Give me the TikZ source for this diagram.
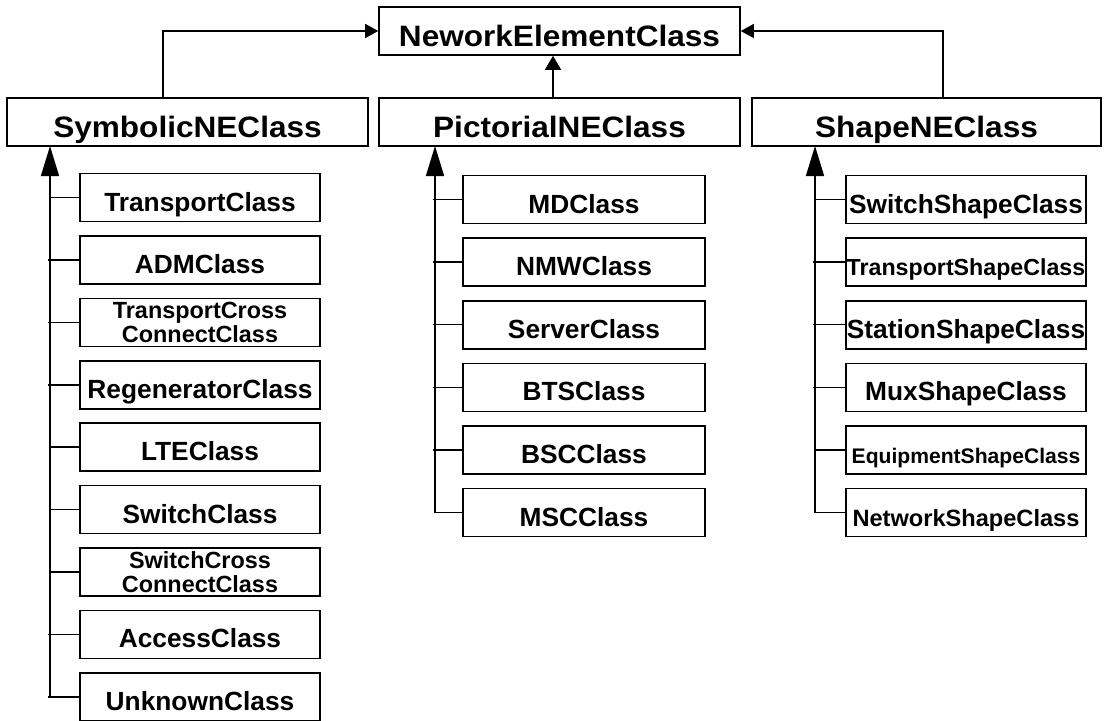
\documentclass[tikz,border=0pt]{standalone}
\usepackage{fontspec}
\setmainfont{Liberation Sans}
\newfontfamily\headfont[FakeStretch=1.07]{Liberation Sans}
\usetikzlibrary{arrows.meta,positioning}

\tikzset{
  classbox/.style={draw, line width=1.6pt, minimum height=48pt, inner sep=0pt},
  headbox/.style={classbox, minimum width=361pt, text height=30pt, text depth=0pt,
    font=\headfont\bfseries\fontsize{29.5}{30}\selectfont},
  subbox/.style={classbox, minimum width=240pt, text height=27pt, text depth=0pt,
    font=\bfseries\fontsize{26.3}{27}\selectfont},
  twobox/.style={classbox, minimum width=240pt, align=center,
    font=\bfseries\fontsize{23.4}{23.4}\selectfont},
  link/.style={line width=1.5pt},
  inherit/.style={link, -{Triangle[length=13pt,width=14pt]}},
  trunk/.style={link, -{Triangle[length=30pt,width=18pt]}},
}

\begin{document}
\begin{tikzpicture}[x=1pt,y=-1pt]
\useasboundingbox (0,0) rectangle (1105,720);
% root class and the three families below it
\node[headbox] (ne) at (559.5,31) {NeworkElementClass};
\node[headbox] (sym) at (187.5,122) {SymbolicNEClass};
\node[headbox] (pic) at (559.5,122) {PictorialNEClass};
\node[headbox, minimum width=349pt] (shp) at (926.5,122) {ShapeNEClass};
\draw[inherit] ([xshift=-24.5pt]sym.north) |- (ne.west);
\draw[link, -{Triangle[length=14pt,width=16pt]}] ([xshift=-6.5pt]pic.north) -- ([xshift=-6.5pt]ne.south);
\draw[inherit] ([xshift=16.5pt]shp.north) |- (ne.east);

% symbolic classes
\node[subbox] (transport) at (200,197.6) {TransportClass};
\node[subbox, below=12.8pt of transport] (adm) {ADMClass};
\node[twobox, below=12.8pt of adm] (tcc) {TransportCross\\ConnectClass};
\node[subbox, below=12.8pt of tcc] (regen) {RegeneratorClass};
\node[subbox, below=12.8pt of regen] (lte) {LTEClass};
\node[subbox, below=12.8pt of lte] (switch) {SwitchClass};
\node[twobox, below=12.8pt of switch] (scc) {SwitchCross\\ConnectClass};
\node[subbox, below=12.8pt of scc] (access) {AccessClass};
\node[subbox, below=12.8pt of access] (unknown) {UnknownClass};
\coordinate (symtrunk) at (50,146);
\draw[trunk] (symtrunk |- unknown.west) -- (symtrunk);
\foreach \n/\t in {transport/0,adm/2.5,tcc/2.5,regen/2.5,lte/0,switch/0,scc/0,access/2.5,unknown/2.5}
  \draw[link, shorten <=-\t pt] (symtrunk |- \n.west) -- (\n.west);

% pictorial classes
\node[subbox, minimum width=242pt] (md) at (584,199.5) {MDClass};
\node[subbox, minimum width=242pt, below=13pt of md] (nmw) {NMWClass};
\node[subbox, minimum width=242pt, below=13pt of nmw] (server) {ServerClass};
\node[subbox, minimum width=242pt, below=13pt of server] (bts) {BTSClass};
\node[subbox, minimum width=242pt, below=13pt of bts] (bsc) {BSCClass};
\node[subbox, minimum width=242pt, below=13pt of bsc] (msc) {MSCClass};
\coordinate (pictrunk) at (435,146);
\draw[trunk] (pictrunk |- msc.west) -- (pictrunk);
\foreach \n/\t in {md/2.5,nmw/2.5,server/2.5,bts/2.5,bsc/2.5,msc/0}
  \draw[link, shorten <=-\t pt] (pictrunk |- \n.west) -- (\n.west);

% shape classes
\node[subbox] (swshape) at (966,199.5) {SwitchShapeClass};
\node[subbox, below=13pt of swshape, font=\bfseries\fontsize{23.2}{24}\selectfont] (trshape) {TransportShapeClass};
\node[subbox, below=13pt of trshape] (stshape) {StationShapeClass};
\node[subbox, below=13pt of stshape] (muxshape) {MuxShapeClass};
\node[subbox, below=13pt of muxshape, font=\bfseries\fontsize{21.1}{22}\selectfont] (eqshape) {EquipmentShapeClass};
\node[subbox, below=13pt of eqshape, font=\bfseries\fontsize{23.6}{24}\selectfont] (nwshape) {NetworkShapeClass};
\coordinate (shptrunk) at (815,146);
\draw[trunk] (shptrunk |- nwshape.west) -- (shptrunk);
\foreach \n/\t in {swshape/0,trshape/2.5,stshape/2.5,muxshape/2.5,eqshape/0,nwshape/0}
  \draw[link, shorten <=-\t pt] (shptrunk |- \n.west) -- (\n.west);
\end{tikzpicture}
\end{document}
